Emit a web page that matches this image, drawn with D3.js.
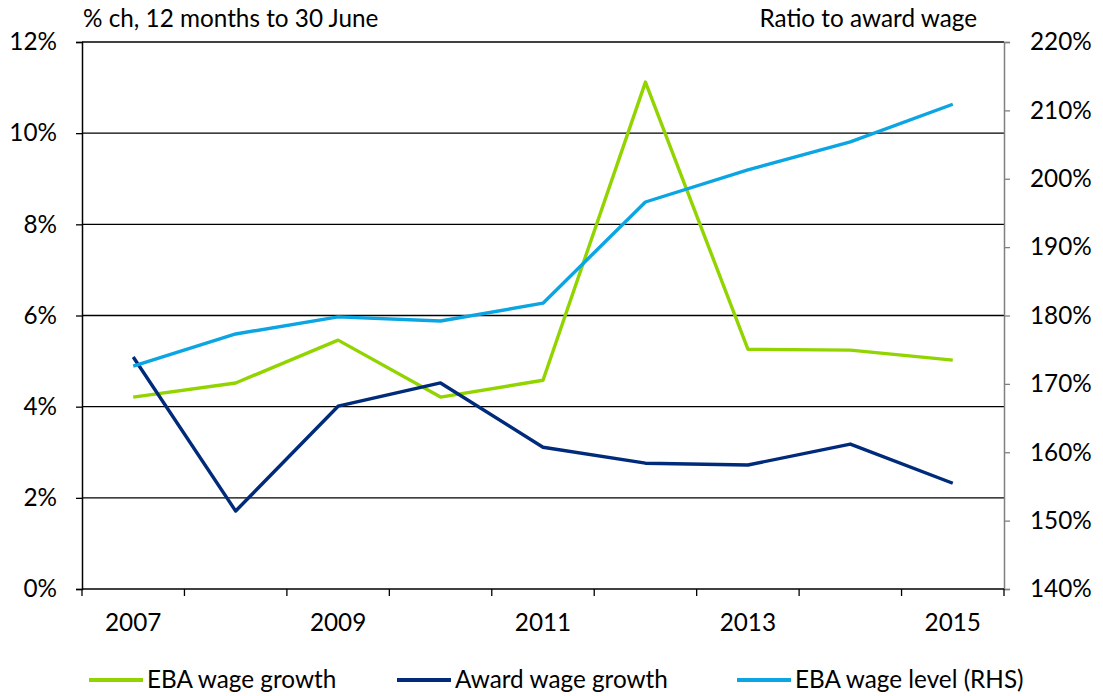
<!DOCTYPE html>
<html><head><meta charset="utf-8">
<script src="https://cdn.jsdelivr.net/npm/d3@7"></script>
<style>
html,body{margin:0;padding:0;background:#fff;}
text{font-family:Lato,"Open Sans",sans-serif;fill:#000;}
</style></head>
<body><svg id="c" width="1103" height="696"></svg>
<script>
const years = ["2007","2008","2009","2010","2011","2012","2013","2014","2015"];
const xTickLabels = ["2007","2009","2011","2013","2015"];
const ebaGrowth = [4.21, 4.52, 5.46, 4.21, 4.58, 11.12, 5.26, 5.24, 5.02];
const awardGrowth = [5.09, 1.71, 4.01, 4.52, 3.11, 2.76, 2.72, 3.18, 2.32];
const ebaLevel = [172.6, 177.3, 179.8, 179.2, 181.8, 196.6, 201.3, 205.4, 210.9];
const leftTicks = [0, 2, 4, 6, 8, 10, 12];
const rightTicks = [140, 150, 160, 170, 180, 190, 200, 210, 220];
const seriesNames = ["EBA wage growth", "Award wage growth", "EBA wage level (RHS)"];
const colors = ["#92d400", "#002b7a", "#0aa5e2"];

const svg = d3.select("#c");
const L = 82, R = 1004, T = 42, B = 589;
const x = d3.scaleBand().domain(years).range([L, R]);
const yL = d3.scaleLinear().domain([0, 12]).range([B, T]);
const yR = d3.scaleLinear().domain([140, 220]).range([B, T]);
const fs = 24.3;

// gridlines
svg.append("g").selectAll("line").data(leftTicks.filter(d => d > 0)).join("line")
  .attr("x1", L).attr("x2", R).attr("y1", d => yL(d)).attr("y2", d => yL(d))
  .attr("stroke", "#000").attr("stroke-width", 1.3);

// left axis
const gl = svg.append("g").attr("transform", `translate(${L},0)`)
  .call(d3.axisLeft(yL).tickValues(leftTicks).tickFormat(d => d + "%").tickSize(6).tickPadding(19));
gl.select(".domain").attr("stroke", "#000").attr("stroke-width", 1.5);
gl.selectAll(".tick line").attr("stroke", "#000").attr("stroke-width", 1.3);
gl.selectAll("text").style("font-size", fs + "px").style("font-family", "Lato,sans-serif").attr("fill", "#000");

// right axis
const gr = svg.append("g").attr("transform", `translate(${R},0)`)
  .call(d3.axisRight(yR).tickValues(rightTicks).tickFormat(d => d + "%").tickSize(6).tickPadding(20));
gr.select(".domain").attr("stroke", "#808080").attr("stroke-width", 1.5);
gr.selectAll(".tick line").attr("stroke", "#808080").attr("stroke-width", 1.3);
gr.selectAll("text").style("font-size", fs + "px").style("font-family", "Lato,sans-serif").attr("fill", "#000");

// bottom axis: ticks at band boundaries
const boundaries = years.map(d => x(d)).concat([R]);
svg.append("g").selectAll("line").data(boundaries).join("line")
  .attr("x1", d => d).attr("x2", d => d).attr("y1", B).attr("y2", B + 7)
  .attr("stroke", "#000").attr("stroke-width", 1.3);
svg.append("line").attr("x1", L).attr("x2", R).attr("y1", B).attr("y2", B)
  .attr("stroke", "#000").attr("stroke-width", 1.5);
svg.append("g").selectAll("text").data(xTickLabels).join("text")
  .attr("x", d => x(d) + x.bandwidth() / 2).attr("y", 631)
  .attr("text-anchor", "middle").style("font-size", fs + "px").text(d => d);

// lines
const cx = (d, i) => x(years[i]) + x.bandwidth() / 2;
const lineL = d3.line().x(cx).y(d => yL(d));
const lineR = d3.line().x(cx).y(d => yR(d));
svg.append("path").datum(ebaGrowth).attr("d", lineL).attr("fill", "none")
  .attr("stroke", colors[0]).attr("stroke-width", 3.4).attr("stroke-linejoin", "round");
svg.append("path").datum(awardGrowth).attr("d", lineL).attr("fill", "none")
  .attr("stroke", colors[1]).attr("stroke-width", 3.4).attr("stroke-linejoin", "round");
svg.append("path").datum(ebaLevel).attr("d", lineR).attr("fill", "none")
  .attr("stroke", colors[2]).attr("stroke-width", 3.4).attr("stroke-linejoin", "round");

// axis titles
svg.append("text").attr("x", 83).attr("y", 27).style("font-size", fs + "px").text("% ch, 12 months to 30 June");
svg.append("text").attr("x", 977).attr("y", 27).attr("text-anchor", "end").style("font-size", fs + "px").text("Ratio to award wage");

// legend
const legX = [89, 397, 737];
const lg = svg.append("g").selectAll("g").data(seriesNames).join("g")
  .attr("transform", (d, i) => `translate(${legX[i]},0)`);
lg.append("line").attr("x1", 0).attr("x2", 54).attr("y1", 680).attr("y2", 680)
  .attr("stroke", (d, i) => colors[i]).attr("stroke-width", 4);
lg.append("text").attr("x", 58).attr("y", 688).style("font-size", fs + "px").text(d => d);
</script></body></html>
